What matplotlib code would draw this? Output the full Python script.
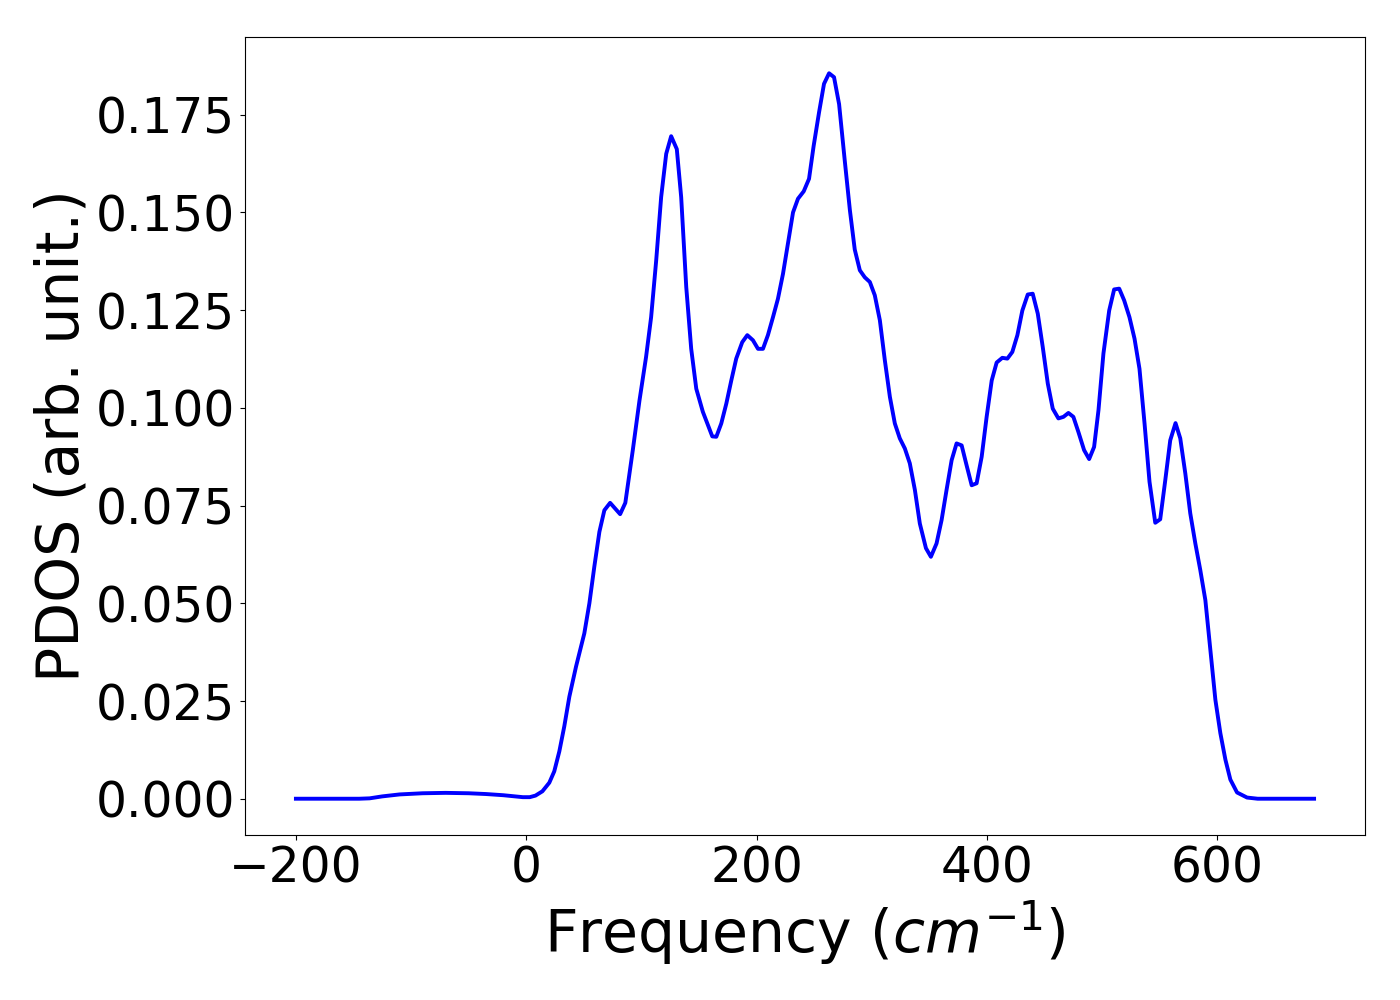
import numpy as np
import matplotlib
matplotlib.use('Agg')
import matplotlib.pyplot as plt
from matplotlib.ticker import MultipleLocator, FormatStrFormatter

# frequency (cm^-1) and PDOS values
freq = [-200, -170, -145, -136, -125, -110, -90, -70, -50, -35, -20, -10, -3,
        3, 8, 14, 20, 24.3, 28.7, 33, 37.4, 43.2, 50.4, 54.8, 59.1, 63.5, 67.8,
        72.8, 81.5, 86, 92.5, 98.3, 104, 108.4, 112.8, 117.1, 121.5, 125.8,
        130.7, 134.5, 138.9, 143.2, 147.6, 153.3, 157.7, 161.5, 165, 169.3,
        173.7, 178, 182.3, 187.5, 191.9, 196.8, 201.2, 205.5, 209.8, 214.2,
        218.5, 222.9, 227.2, 231.6, 235.9, 240.9, 245.5, 249.5, 254.2, 258.5,
        262.9, 267.2, 271.6, 276.5, 281, 285.2, 289.6, 293.9, 298.3, 302.6,
        307, 311.3, 315.7, 320, 324.3, 328.7, 333, 337.4, 341.7, 347, 351.3,
        356.2, 360.6, 364.9, 369.3, 373.6, 378, 382.3, 386.7, 391, 395.4,
        399.7, 404.1, 408.4, 413.3, 417.7, 422, 426.4, 430.7, 435.4, 439.7,
        444.1, 448.4, 452.8, 457.1, 462, 466.4, 470.7, 475, 479.4, 484.3,
        488.7, 493, 496.8, 501.1, 506.1, 510.4, 514.8, 519.1, 523.7, 528.1,
        532.4, 536.8, 541.1, 546.1, 550.4, 554.8, 559.1, 563.7, 567.8, 572.2,
        576.5, 580.9, 585.2, 589.6, 592.5, 595.4, 598.3, 602.6, 607, 611.3,
        617.1, 625.8, 635, 684]
pdos = [0, 0, 0, 0.0001, 0.0006, 0.0011, 0.0014, 0.0015, 0.0014, 0.0012,
        0.0009, 0.0006, 0.0004,
        0.0004, 0.0008, 0.0019, 0.0041, 0.007, 0.0121, 0.0185, 0.0261, 0.0338,
        0.0423, 0.050, 0.0594, 0.0683, 0.0738,
        0.0757, 0.0728, 0.0757, 0.0892, 0.1019, 0.113, 0.1232, 0.1377, 0.1539,
        0.165, 0.1695,
        0.1662, 0.1539, 0.1309, 0.1151, 0.1049, 0.099, 0.0956, 0.0927, 0.0926,
        0.096,
        0.1011, 0.107, 0.1126, 0.1168, 0.1186, 0.1173, 0.1151, 0.1151, 0.1186,
        0.1232,
        0.1279, 0.1343, 0.142, 0.15, 0.1535, 0.1554, 0.1586, 0.167, 0.1756,
        0.1829,
        0.1856, 0.1846, 0.1777, 0.1633, 0.1505, 0.1405, 0.1352, 0.1334, 0.1322,
        0.1288,
        0.1224, 0.1122, 0.1028, 0.096, 0.0922, 0.0896, 0.0858, 0.079, 0.0704,
        0.0641, 0.0619,
        0.0653, 0.0713, 0.079, 0.0866, 0.0909, 0.0904, 0.0853, 0.0802, 0.0807,
        0.0875,
        0.0977, 0.107, 0.1116, 0.1128, 0.1126, 0.1143, 0.1186, 0.1249, 0.129,
        0.1292,
        0.1241, 0.1156, 0.1062, 0.0998, 0.0973, 0.0977, 0.0987, 0.0977, 0.0938,
        0.0892,
        0.0869, 0.09, 0.0994, 0.1139, 0.1249, 0.1303, 0.1305, 0.1275, 0.1232,
        0.1177,
        0.11, 0.096, 0.0811, 0.0706, 0.0715, 0.0815, 0.0917, 0.0961, 0.0922,
        0.0832,
        0.073, 0.0653, 0.0585, 0.0508, 0.0423, 0.0338, 0.0253, 0.0168, 0.01,
        0.0049,
        0.0016, 0.0003, 0, 0]

fig = plt.figure(figsize=(14, 10), dpi=100)
ax = fig.add_subplot(111)
fig.subplots_adjust(left=0.175, right=0.975, top=0.963, bottom=0.165)

ax.plot(freq, pdos, color='blue', lw=2.8)

ax.yaxis.set_major_locator(MultipleLocator(0.025))
ax.yaxis.set_major_formatter(FormatStrFormatter('%.3f'))

ax.set_xlabel('Frequency ($cm^{-1}$)', fontsize=42)
ax.set_ylabel('PDOS (arb. unit.)', fontsize=42)
ax.tick_params(labelsize=35)

fig.savefig('out.png', dpi=100)
